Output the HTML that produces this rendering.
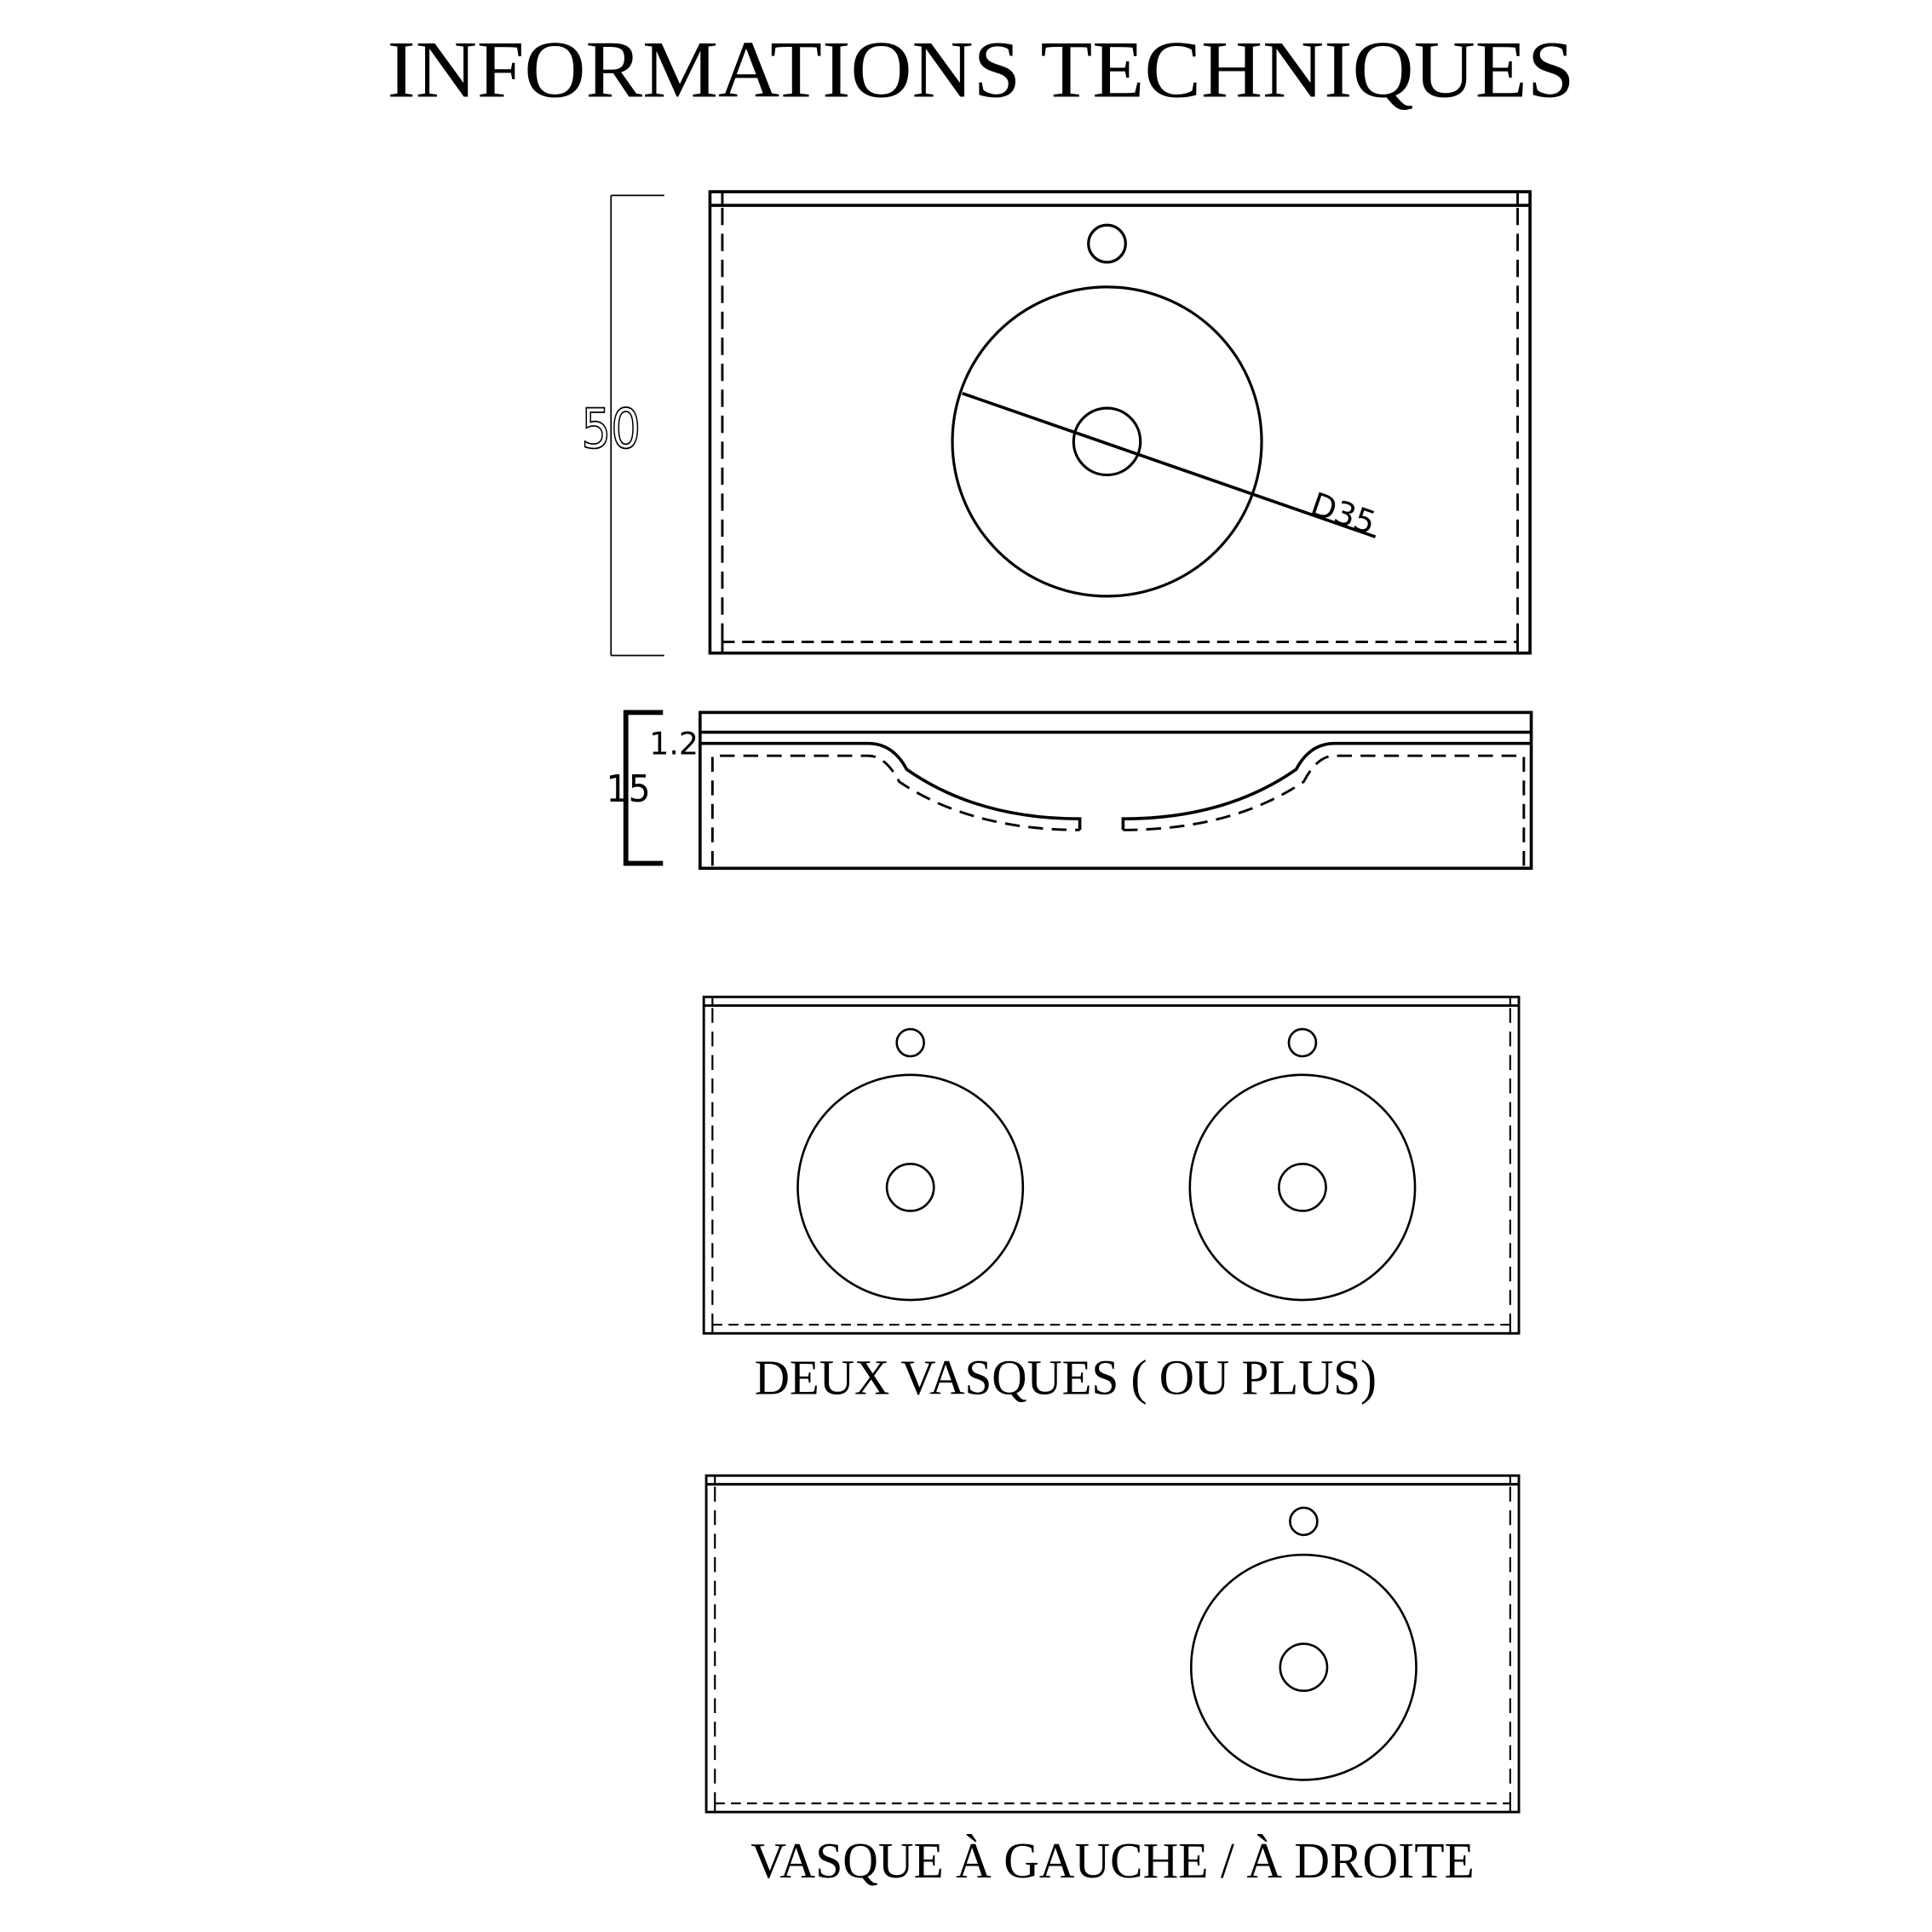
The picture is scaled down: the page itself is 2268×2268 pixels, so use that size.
<!DOCTYPE html>
<html><head><meta charset="utf-8"><style>
html,body{margin:0;padding:0;background:#fff;}
svg{display:block;}
</style></head><body>
<svg width="2268" height="2268" viewBox="0 0 1562 1562" xmlns="http://www.w3.org/2000/svg">
<rect width="1562" height="1562" fill="#fff"/>
<text x="313" y="78" font-family="Liberation Serif, serif" font-size="66" fill="#000" textLength="960" lengthAdjust="spacingAndGlyphs">INFORMATIONS TECHNIQUES</text>

<g fill="none" stroke="#000">
<!-- top view -->
<rect x="574" y="155" width="663" height="373" stroke-width="2.5"/>
<line x1="574" y1="166" x2="1237" y2="166" stroke-width="2.5"/>
<line x1="584" y1="155" x2="584" y2="166" stroke-width="2"/>
<line x1="1227" y1="155" x2="1227" y2="166" stroke-width="2"/>
<line x1="584" y1="518" x2="584" y2="528" stroke-width="2"/>
<line x1="1227" y1="518" x2="1227" y2="528" stroke-width="2"/>
<line x1="584" y1="168" x2="584" y2="518" stroke-width="2" stroke-dasharray="14,7"/>
<line x1="1227" y1="168" x2="1227" y2="518" stroke-width="2" stroke-dasharray="14,7"/>
<line x1="584" y1="519" x2="1227" y2="519" stroke-width="2" stroke-dasharray="10,6"/>
<line x1="494" y1="158" x2="494" y2="530" stroke-width="1.2"/>
<line x1="494" y1="158" x2="537" y2="158" stroke-width="1.2"/>
<line x1="494" y1="530" x2="537" y2="530" stroke-width="1.2"/>
<circle cx="895" cy="197" r="15" stroke-width="2.2"/>
<circle cx="895" cy="357" r="125" stroke-width="2.2"/>
<circle cx="895" cy="357" r="27" stroke-width="2.2"/>
<line x1="778" y1="318" x2="1112" y2="434" stroke-width="2.5"/>

<!-- side view -->
<rect x="566" y="576" width="672" height="126" stroke-width="2.5"/>
<line x1="566" y1="592" x2="1238" y2="592" stroke-width="2.5"/>
<path d="M566 601 H702 Q722 601 733 622 Q790 662 873 662 V671" stroke-width="2.5"/>
<path d="M1238 601 H1079 Q1059 601 1048 622 Q991 662 908 662 V671" stroke-width="2.5"/>
<path d="M576 700 V611 H702 Q716 611 727 632 Q785 671 873 671" stroke-width="2" stroke-dasharray="12,7"/>
<path d="M1232 700 V611 H1079 Q1065 611 1054 632 Q996 671 908 671" stroke-width="2" stroke-dasharray="12,7"/>
<path d="M536 576 H506 V698 H536" stroke-width="4"/>

<!-- double vasque -->
<rect x="569" y="806" width="659" height="272" stroke-width="2"/>
<line x1="569" y1="813" x2="1228" y2="813" stroke-width="2"/>
<line x1="576" y1="806" x2="576" y2="813" stroke-width="1.5"/>
<line x1="1221" y1="806" x2="1221" y2="813" stroke-width="1.5"/>
<line x1="576" y1="1071" x2="576" y2="1078" stroke-width="1.5"/>
<line x1="1221" y1="1071" x2="1221" y2="1078" stroke-width="1.5"/>
<line x1="576" y1="815" x2="576" y2="1071" stroke-width="1.5" stroke-dasharray="12,7"/>
<line x1="1221" y1="815" x2="1221" y2="1071" stroke-width="1.5" stroke-dasharray="12,7"/>
<line x1="576" y1="1071" x2="1221" y2="1071" stroke-width="1.5" stroke-dasharray="8,5"/>
<circle cx="736" cy="843" r="11" stroke-width="1.8"/>
<circle cx="736" cy="960" r="91" stroke-width="1.8"/>
<circle cx="736" cy="960" r="19" stroke-width="1.8"/>
<circle cx="1053" cy="843" r="11" stroke-width="1.8"/>
<circle cx="1053" cy="960" r="91" stroke-width="1.8"/>
<circle cx="1053" cy="960" r="19" stroke-width="1.8"/>

<!-- single vasque -->
<rect x="571" y="1193" width="657" height="272" stroke-width="2"/>
<line x1="571" y1="1200" x2="1228" y2="1200" stroke-width="2"/>
<line x1="578" y1="1193" x2="578" y2="1200" stroke-width="1.5"/>
<line x1="1221" y1="1193" x2="1221" y2="1200" stroke-width="1.5"/>
<line x1="578" y1="1458" x2="578" y2="1465" stroke-width="1.5"/>
<line x1="1221" y1="1458" x2="1221" y2="1465" stroke-width="1.5"/>
<line x1="578" y1="1202" x2="578" y2="1458" stroke-width="1.5" stroke-dasharray="12,7"/>
<line x1="1221" y1="1202" x2="1221" y2="1458" stroke-width="1.5" stroke-dasharray="12,7"/>
<line x1="578" y1="1458" x2="1221" y2="1458" stroke-width="1.5" stroke-dasharray="8,5"/>
<circle cx="1054" cy="1230" r="11" stroke-width="1.8"/>
<circle cx="1054" cy="1348" r="91" stroke-width="1.8"/>
<circle cx="1054" cy="1348" r="19" stroke-width="1.8"/>
</g>

<text x="470" y="362" font-family="DejaVu Sans, sans-serif" font-size="44" fill="#fff" stroke="#000" stroke-width="1.2" textLength="48" lengthAdjust="spacingAndGlyphs">50</text>
<text x="1058" y="415" font-family="DejaVu Sans, sans-serif" font-size="26" fill="#000" transform="rotate(19 1058 415)">D35</text>
<text x="525" y="610" font-family="DejaVu Sans, sans-serif" font-size="25" fill="#000">1.2</text>
<text x="490" y="648" font-family="DejaVu Sans, sans-serif" font-size="30" fill="#000" textLength="36" lengthAdjust="spacingAndGlyphs">15</text>
<text x="610" y="1127" font-family="Liberation Serif, serif" font-size="40" fill="#000" textLength="503" lengthAdjust="spacingAndGlyphs">DEUX VASQUES ( OU PLUS)</text>
<text x="607" y="1518" font-family="Liberation Serif, serif" font-size="41" fill="#000" textLength="585" lengthAdjust="spacingAndGlyphs">VASQUE À GAUCHE / À DROITE</text>
</svg>
</body></html>
